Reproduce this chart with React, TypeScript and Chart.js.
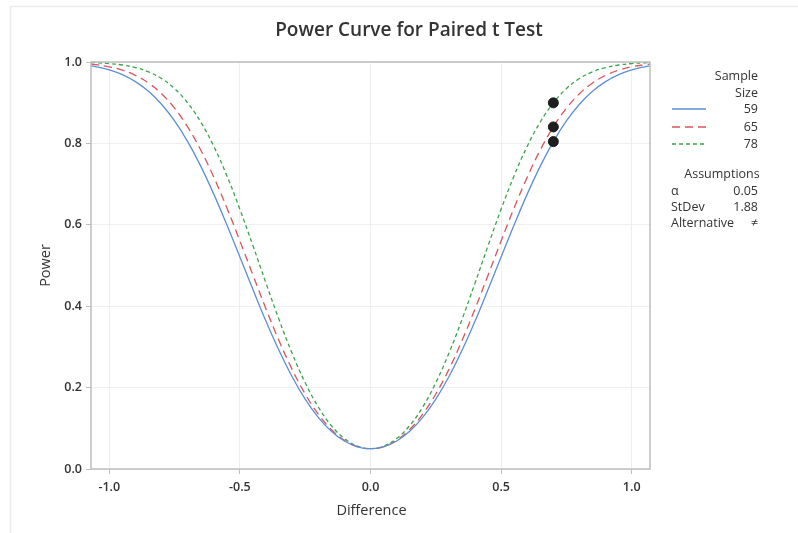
import React, { useEffect, useRef } from "react";
import { Chart, registerables } from "chart.js";

Chart.register(...registerables);

const differences = [
  -1.07, -1.05, -1.0, -0.95, -0.9, -0.85, -0.8, -0.75, -0.7, -0.65, -0.6, -0.55, -0.5, -0.45, -0.4, -0.35, -0.3,
  -0.25, -0.2, -0.15, -0.1, -0.05, 0.0, 0.05, 0.1, 0.15, 0.2, 0.25, 0.3, 0.35, 0.4, 0.45, 0.5, 0.55, 0.6, 0.65,
  0.7, 0.75, 0.8, 0.85, 0.9, 0.95, 1.0, 1.05, 1.07,
];

const power59 = [
  0.9905, 0.9883, 0.9805, 0.9688, 0.9518, 0.928, 0.8962, 0.8551, 0.8044, 0.7441, 0.6754, 0.6001, 0.521, 0.441,
  0.363, 0.291, 0.2266, 0.1715, 0.1267, 0.0926, 0.0687, 0.0546, 0.05, 0.0546, 0.0687, 0.0926, 0.1267, 0.1715,
  0.2266, 0.291, 0.363, 0.441, 0.521, 0.6001, 0.6754, 0.7441, 0.8044, 0.8551, 0.8962, 0.928, 0.9518, 0.9688,
  0.9805, 0.9883, 0.9905,
];

const power65 = [
  0.9948, 0.9933, 0.9882, 0.98, 0.9672, 0.9485, 0.9221, 0.8865, 0.8405, 0.7839, 0.7171, 0.6417, 0.5603, 0.4763,
  0.3934, 0.315, 0.2447, 0.1842, 0.1348, 0.097, 0.0706, 0.055, 0.05, 0.055, 0.0706, 0.097, 0.1348, 0.1842, 0.2447,
  0.315, 0.3934, 0.4763, 0.5603, 0.6417, 0.7171, 0.7839, 0.8405, 0.8865, 0.9221, 0.9485, 0.9672, 0.98, 0.9882,
  0.9933, 0.9948,
];

const power78 = [
  0.9986, 0.9981, 0.9962, 0.9926, 0.9863, 0.9758, 0.9593, 0.9346, 0.8996, 0.8527, 0.7929, 0.7208, 0.6382, 0.5487,
  0.4565, 0.3669, 0.2841, 0.2118, 0.1524, 0.1067, 0.0748, 0.0561, 0.05, 0.0561, 0.0748, 0.1067, 0.1524, 0.2118,
  0.2841, 0.3669, 0.4565, 0.5487, 0.6382, 0.7208, 0.7929, 0.8527, 0.8996, 0.9346, 0.9593, 0.9758, 0.9863, 0.9926,
  0.9962, 0.9981, 0.9986,
];

const targetDifference = [0.7, 0.7, 0.7];
const targetPower = [0.8044, 0.8405, 0.8996];

const sampleSizes = ["59", "65", "78"];
const xTicks = [-1.0, -0.5, 0.0, 0.5, 1.0];
const yTicks = [0.0, 0.2, 0.4, 0.6, 0.8, 1.0];
const assumptionLabels = ["α", "StDev", "Alternative"];
const assumptionValues = ["0.05", "1.88", "≠"];

const FONT = "'Open Sans', 'Noto Sans', sans-serif";
const TEXT = "#333333";

const colors = ["#5b8fd6", "#d9565a", "#3aa64a"];
const dashes: number[][] = [[], [8, 5], [4, 3]];

const overlayPlugin = {
  id: "overlay",
  beforeDraw(chart: any) {
    const ctx = chart.ctx;
    ctx.save();
    ctx.fillStyle = "#ffffff";
    ctx.fillRect(0, 0, chart.width, chart.height);
    ctx.strokeStyle = "#ececec";
    ctx.lineWidth = 1.5;
    ctx.beginPath();
    ctx.moveTo(10.5, 533);
    ctx.lineTo(10.5, 6.5);
    ctx.lineTo(798, 6.5);
    ctx.stroke();
    ctx.restore();
  },
  afterDatasetsDraw(chart: any) {
    const ctx = chart.ctx;
    const a = chart.chartArea;
    ctx.save();
    ctx.strokeStyle = "#bdbdbd";
    ctx.lineWidth = 1.5;
    ctx.strokeRect(a.left, a.top, a.right - a.left, a.bottom - a.top);
    ctx.restore();
  },
  afterDraw(chart: any) {
    const ctx = chart.ctx;
    const a = chart.chartArea;
    ctx.save();
    // Title
    ctx.fillStyle = TEXT;
    ctx.font = `600 19px ${FONT}`;
    ctx.textAlign = "center";
    ctx.textBaseline = "middle";
    ctx.fillText("Power Curve for Paired t Test", 409, 31);

    // Axis titles
    ctx.font = `14.5px ${FONT}`;
    ctx.fillText("Difference", (a.left + a.right) / 2 + 1, 511);
    ctx.save();
    ctx.translate(46, (a.top + a.bottom) / 2);
    ctx.rotate(-Math.PI / 2);
    ctx.fillText("Power", 0, 0);
    ctx.restore();

    // Legend
    ctx.font = `12.5px ${FONT}`;
    ctx.textAlign = "right";
    ctx.fillText("Sample", 758, 76);
    ctx.fillText("Size", 758, 93);
    const rowsY = [109, 127, 144];
    sampleSizes.forEach((s, i) => {
      ctx.fillStyle = TEXT;
      ctx.textAlign = "right";
      ctx.fillText(s, 758, rowsY[i]);
      ctx.strokeStyle = colors[i];
      ctx.lineWidth = 1.3;
      ctx.setLineDash(dashes[i]);
      ctx.beginPath();
      ctx.moveTo(672, rowsY[i]);
      ctx.lineTo(706, rowsY[i]);
      ctx.stroke();
      ctx.setLineDash([]);
    });

    ctx.fillStyle = TEXT;
    ctx.textAlign = "center";
    ctx.fillText("Assumptions", 722, 174);
    const aY = [191, 207, 223];
    assumptionLabels.forEach((l, i) => {
      ctx.textAlign = "left";
      ctx.fillText(l, 671, aY[i]);
      ctx.textAlign = "right";
      ctx.fillText(assumptionValues[i], 758, aY[i]);
    });
    ctx.restore();
  },
};

export default function App() {
  const canvasRef = useRef<HTMLCanvasElement | null>(null);

  useEffect(() => {
    if (!canvasRef.current) return;
    const lineDs = (label: string, data: number[], i: number) => ({
      type: "line" as const,
      label,
      order: 1,
      data: differences.map((d, k) => ({ x: d, y: data[k] })),
      borderColor: colors[i],
      borderWidth: 1.3,
      borderDash: dashes[i],
      pointRadius: 0,
      tension: 0.4,
      fill: false,
    });
    const chart = new Chart(canvasRef.current, {
      type: "line",
      data: {
        datasets: [
          lineDs("59", power59, 0),
          lineDs("65", power65, 1),
          lineDs("78", power78, 2),
          {
            type: "line" as const,
            label: "targets",
            order: 0,
            data: targetDifference.map((d, k) => ({ x: d, y: targetPower[k] })),
            showLine: false,
            pointStyle: "circle",
            pointRadius: 5,
            pointBackgroundColor: "#1e1e1e",
            pointBorderColor: "#1e1e1e",
            pointBorderWidth: 1,
          } as any,
        ],
      },
      options: {
        animation: false,
        responsive: false,
        devicePixelRatio: 1,
        layout: { padding: { left: 0, right: 148, top: 62, bottom: 0 } },
        plugins: {
          legend: { display: false },
          title: { display: false },
          tooltip: { enabled: false },
        },
        scales: {
          x: {
            type: "linear",
            min: -1.07,
            max: 1.07,
            afterBuildTicks: (scale: any) => {
              scale.ticks = xTicks.map((v) => ({ value: v }));
            },
            afterFit: (scale: any) => {
              scale.height = 64;
            },
            grid: {
              color: "#efefef",
              lineWidth: 1,
              drawTicks: true,
              tickLength: 5,
              tickColor: "#bdbdbd",
            },
            border: { display: false },
            ticks: {
              color: TEXT,
              font: { family: FONT, size: 12.5, weight: 600 },
              padding: 6,
              callback: (v: any) => Number(v).toFixed(1),
            },
            title: { display: false },
          },
          y: {
            type: "linear",
            min: 0,
            max: 1,
            afterBuildTicks: (scale: any) => {
              scale.ticks = yTicks.map((v) => ({ value: v }));
            },
            afterFit: (scale: any) => {
              scale.width = 91;
            },
            grid: {
              color: "#efefef",
              lineWidth: 1,
              drawTicks: true,
              tickLength: 5,
              tickColor: "#bdbdbd",
            },
            border: { display: false },
            ticks: {
              color: TEXT,
              font: { family: FONT, size: 12.5, weight: 600 },
              padding: 4,
              callback: (v: any) => Number(v).toFixed(1),
            },
            title: { display: false },
          },
        },
      },
      plugins: [overlayPlugin],
    } as any);
    return () => chart.destroy();
  }, []);

  return (
    <div style={{ position: "fixed", left: 0, top: 0, width: 798, height: 533 }}>
      <canvas ref={canvasRef} width={798} height={533} style={{ width: 798, height: 533 }} />
    </div>
  );
}
